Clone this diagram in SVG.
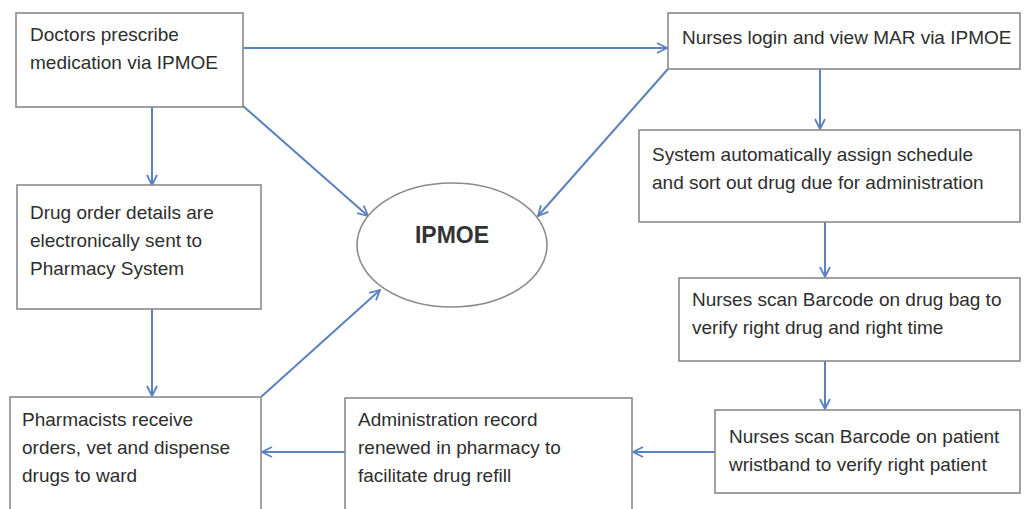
<svg xmlns="http://www.w3.org/2000/svg" width="1024" height="509" viewBox="0 0 1024 509">
<style>
.box{fill:#fff;stroke:#8a8a8a;stroke-width:1.6}
.t{font-family:"Liberation Sans",Arial,sans-serif;font-size:19px;fill:#2e2e2e}
.c{stroke:#5a82c0;stroke-width:2;fill:none;marker-end:url(#ah)}
</style>
<defs>
<marker id="ah" viewBox="0 0 12 12" refX="11" refY="6" markerWidth="12" markerHeight="12" markerUnits="userSpaceOnUse" orient="auto">
<path d="M1,1 L11,6 L1,11" fill="none" stroke="#5a82c0" stroke-width="1.8"/>
</marker>
</defs>
<rect width="1024" height="509" fill="#fff"/>
<g id="connectors">
<line class="c" x1="243" y1="48" x2="667" y2="48"/>
<line class="c" x1="152" y1="107" x2="152" y2="185"/>
<line class="c" x1="152" y1="309" x2="152" y2="396"/>
<line class="c" x1="243" y1="106" x2="368" y2="216"/>
<line class="c" x1="668" y1="69" x2="538" y2="216"/>
<line class="c" x1="261" y1="397" x2="380" y2="290"/>
<line class="c" x1="820" y1="69" x2="820" y2="129"/>
<line class="c" x1="825" y1="222" x2="825" y2="277"/>
<line class="c" x1="825" y1="361" x2="825" y2="409"/>
<line class="c" x1="715" y1="452" x2="633" y2="452"/>
<line class="c" x1="345" y1="452" x2="262" y2="452"/>
</g>
<g id="doctors"><rect class="box" x="16" y="13" width="227" height="94"/>
<text class="t" x="30" y="41">Doctors prescribe</text><text class="t" x="30" y="69">medication via IPMOE</text></g>
<g id="drug-order"><rect class="box" x="17" y="185" width="244" height="124"/>
<text class="t" x="30" y="219">Drug order details are</text><text class="t" x="30" y="247">electronically sent to</text><text class="t" x="30" y="275">Pharmacy System</text></g>
<g id="pharmacists"><rect class="box" x="10" y="397" width="251" height="120"/>
<text class="t" x="22" y="426">Pharmacists receive</text><text class="t" x="22" y="454">orders, vet and dispense</text><text class="t" x="22" y="482">drugs to ward</text></g>
<g id="ipmoe"><ellipse cx="452" cy="245" rx="95" ry="62" fill="#fff" stroke="#8a8a8a" stroke-width="1.6"/>
<text x="452" y="243" text-anchor="middle" font-family="'Liberation Sans',Arial,sans-serif" font-size="23" font-weight="bold" fill="#333">IPMOE</text></g>
<g id="nurses-login"><rect class="box" x="668" y="13" width="352" height="56"/>
<text class="t" x="682" y="44">Nurses login and view MAR via IPMOE</text></g>
<g id="system"><rect class="box" x="639" y="130" width="381" height="92"/>
<text class="t" x="652" y="161">System automatically assign schedule</text><text class="t" x="652" y="189">and sort out drug due for administration</text></g>
<g id="scan-bag"><rect class="box" x="679" y="278" width="341" height="83"/>
<text class="t" x="692" y="306">Nurses scan Barcode on drug bag to</text><text class="t" x="692" y="334">verify right drug and right time</text></g>
<g id="scan-patient"><rect class="box" x="715" y="410" width="305" height="83"/>
<text class="t" x="729" y="443">Nurses scan Barcode on patient</text><text class="t" x="729" y="471">wristband to verify right patient</text></g>
<g id="admin-record"><rect class="box" x="345" y="398" width="287" height="120"/>
<text class="t" x="358" y="426">Administration record</text><text class="t" x="358" y="454">renewed in pharmacy to</text><text class="t" x="358" y="482">facilitate drug refill</text></g>
</svg>
